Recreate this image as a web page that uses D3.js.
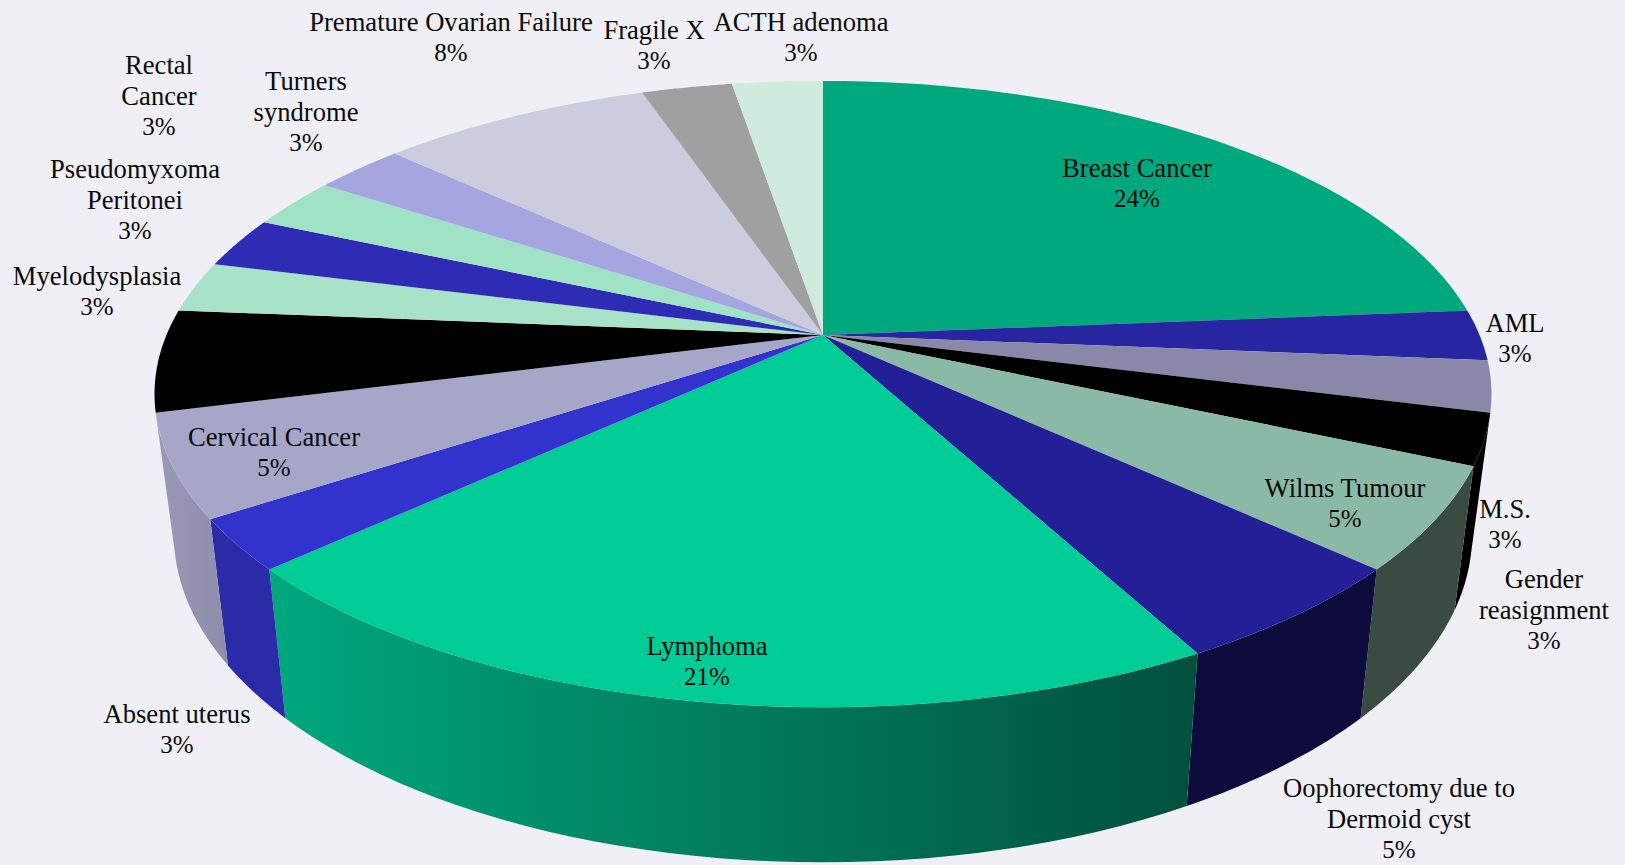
<!DOCTYPE html>
<html>
<head>
<meta charset="utf-8">
<style>
  html, body { margin: 0; padding: 0; background: #efeff5; overflow: hidden; }
  text { font-family: "Liberation Serif", "Times New Roman", serif; font-size: 26.6px; fill: #0a0a0a; }
  tspan.pct { font-size: 25px; }
</style>
</head>
<body>
<svg id="chart" width="1625" height="865"></svg>
<script src="https://cdn.jsdelivr.net/npm/d3@7"></script>
<script>
// clockwise from 12 o'clock. the 17th label is black on black in the original, so it never shows
const categories = ["Breast Cancer", "AML", "M.S.", "Gender\nreasignment", "Wilms Tumour",
    "Oophorectomy due to\nDermoid cyst", "Lymphoma", "Absent uterus", "Cervical Cancer", "",
    "Myelodysplasia", "Pseudomyxoma\nPeritonei", "Rectal\nCancer", "Turners\nsyndrome",
    "Premature Ovarian Failure", "Fragile X", "ACTH adenoma"];
const cases = [9, 1, 1, 1, 2, 2, 8, 1, 2, 2, 1, 1, 1, 1, 3, 1, 1];

const topColors = ["#00a87d", "#2726a0", "#8a88a8", "#000000", "#8ab9a5", "#231f96", "#00cc96", "#3232cc",
    "#a6a6c9", "#000000", "#a8e2c9", "#2e2cb5", "#a0e2c5", "#a5a5e0", "#ccccdf", "#a0a0a0", "#cfebde"];
// side wall gradient, left to right. only the front slices have one
const sideColors = {
    3: ["#000000", "#000000"],
    4: ["#3a4c42", "#3a4c42"],
    5: ["#0d0b3b", "#0d0b3b"],
    6: ["#00a87d", "#00503c"],
    7: ["#2b2ba8", "#2b2ba8"],
    8: ["#9a9ab8", "#8e8eac"]
};

const labelAnchors = [[1137, 177], [1515, 332], [1505, 518], [1544, 588], [1345, 497],
    [1399, 797], [707, 655], [177, 723], [274, 446], [0, 0],
    [97, 285], [135, 178], [159, 74], [306, 90], [451, 31], [654, 39], [801, 31]];

const width = 1625, height = 865;
const cx = 823, cy = 335;
const lineGap = 31;

// the pie is a tilted disc seen in perspective, so the apex sits above the ellipse centre
const persp = 0.1885, rx = 656.5, ry = 302;
const rimScaleX = 0.971, rimScaleY = 1.047, rimDrop = 137.7;

const topPoint = a => {
    const w = 1 + persp * Math.cos(a);
    return [rx * Math.sin(a) / w, -ry * Math.cos(a) / w];
};
const rimPoint = a => {
    const [x, y] = topPoint(a);
    return [x * rimScaleX, y * rimScaleY + rimDrop];
};

const svg = d3.select("#chart").attr("viewBox", [0, 0, width, height]);
svg.append("rect").attr("width", width).attr("height", height).attr("fill", "#efeff5");

const defs = svg.append("defs");
const g = svg.append("g").attr("transform", `translate(${cx},${cy})`);

const slices = d3.pie().sort(null).value(d => d)(cases);
const total = d3.sum(cases);
const pct = d3.format(".0%");
const line = d3.line();

const arcSteps = (a0, a1) => d3.range(0, 41).map(i => a0 + (a1 - a0) * i / 40);

// side walls first, the top faces go over them
Object.keys(sideColors).forEach(k => {
    const i = +k;
    const s = slices[i];
    const id = "side" + i;
    const grad = defs.append("linearGradient").attr("id", id);
    grad.append("stop").attr("offset", "0%").attr("stop-color", sideColors[i][0]);
    grad.append("stop").attr("offset", "100%").attr("stop-color", sideColors[i][1]);
    const pts = arcSteps(s.startAngle, s.endAngle).map(topPoint)
        .concat(arcSteps(s.endAngle, s.startAngle).map(rimPoint));
    g.append("path").attr("d", line(pts) + "Z").attr("fill", `url(#${id})`);
});

g.selectAll("path.top")
    .data(slices)
    .join("path")
    .attr("class", "top")
    .attr("d", s => line([[0, 0]].concat(arcSteps(s.startAngle, s.endAngle).map(topPoint))) + "Z")
    .attr("fill", (s, i) => topColors[i]);

const labels = svg.append("g");
categories.forEach((name, i) => {
    if (!name) return;
    const rows = name.split("\n");
    const t = labels.append("text")
        .attr("x", labelAnchors[i][0])
        .attr("y", labelAnchors[i][1])
        .attr("text-anchor", "middle");
    rows.forEach((r, j) => {
        t.append("tspan")
            .attr("x", labelAnchors[i][0])
            .attr("dy", j ? lineGap : 0)
            .text(r);
    });
    t.append("tspan")
        .attr("class", "pct")
        .attr("x", labelAnchors[i][0])
        .attr("dy", lineGap - 1)
        .text(pct(cases[i] / total));
});
</script>
</body>
</html>
